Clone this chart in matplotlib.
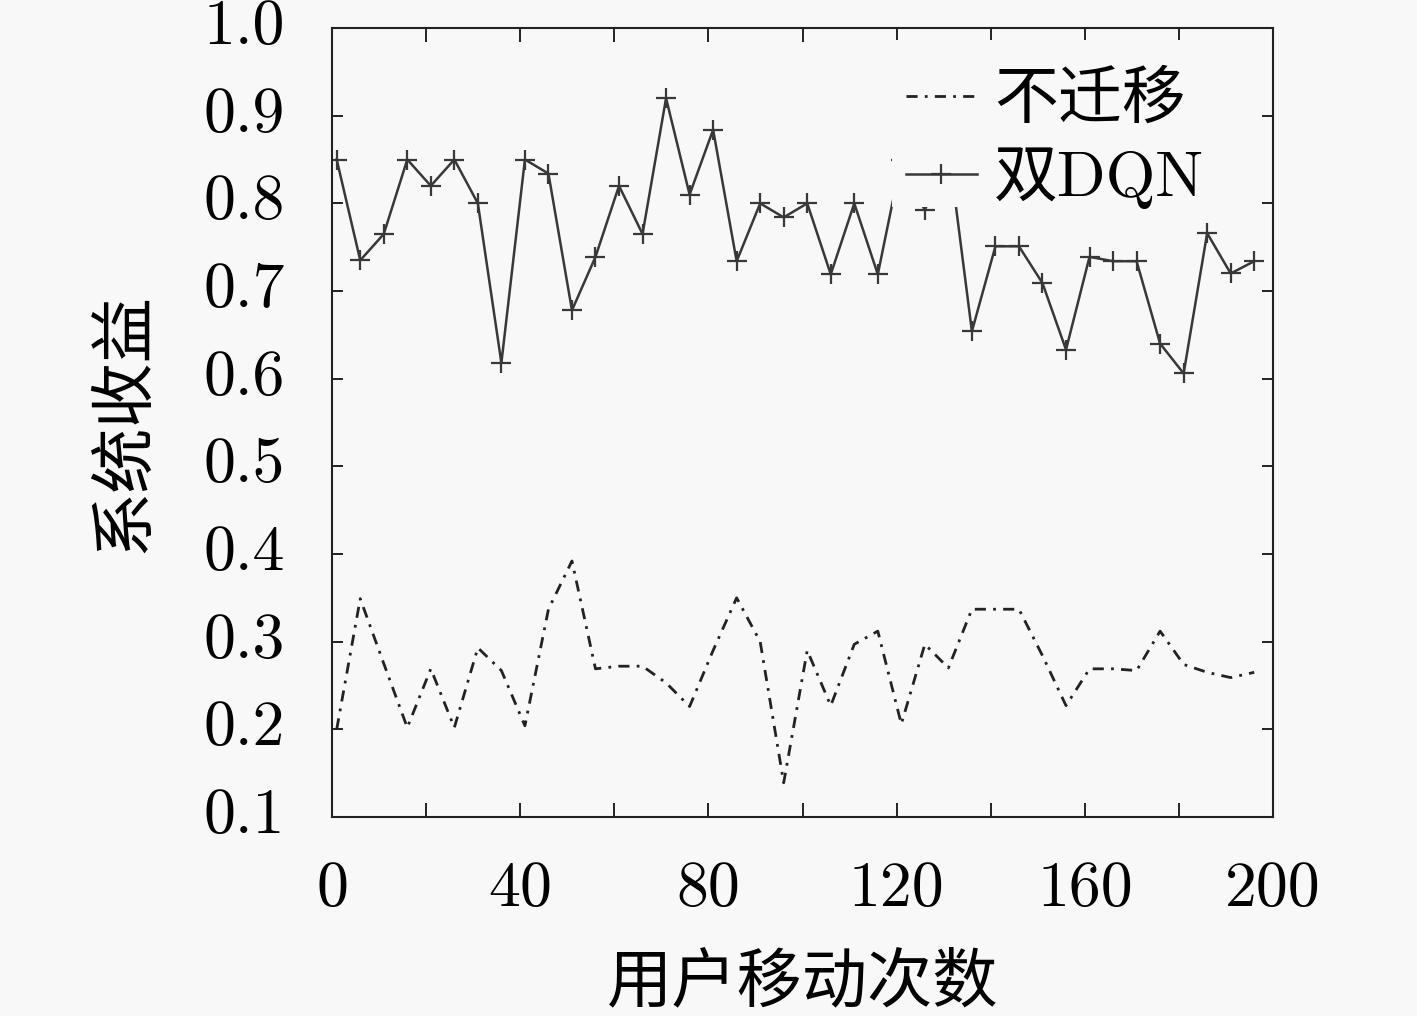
import matplotlib
matplotlib.use('Agg')
import matplotlib.pyplot as plt
from matplotlib.patches import Rectangle

# data
moves = [1, 6, 11, 16, 21, 26, 31, 36, 41, 46,
         51, 56, 61, 66, 71, 76, 81, 86, 91, 96,
         101, 106, 111, 116, 121, 126, 131, 136, 141, 146,
         151, 156, 161, 166, 171, 176, 181, 186, 191, 196]

no_migrate = [0.200, 0.349, 0.275, 0.202, 0.269, 0.202, 0.293, 0.267, 0.204, 0.337,
              0.392, 0.269, 0.272, 0.272, 0.253, 0.226, 0.290, 0.350, 0.300, 0.139,
              0.290, 0.227, 0.297, 0.312, 0.206, 0.297, 0.270, 0.337, 0.337, 0.337,
              0.284, 0.227, 0.269, 0.269, 0.267, 0.312, 0.274, 0.265, 0.259, 0.265]

double_dqn = [0.850, 0.735, 0.765, 0.850, 0.820, 0.850, 0.800, 0.618, 0.850, 0.834,
              0.678, 0.739, 0.820, 0.765, 0.920, 0.810, 0.884, 0.734, 0.800, 0.784,
              0.800, 0.719, 0.800, 0.719, 0.850, 0.792, 0.864, 0.654, 0.751, 0.751,
              0.709, 0.633, 0.739, 0.734, 0.734, 0.640, 0.606, 0.766, 0.720, 0.734]

x_ticks = [0, 20, 40, 60, 80, 100, 120, 140, 160, 180, 200]
x_tick_labels = ['0', '', '40', '', '80', '', '120', '', '160', '', '200']
y_ticks = [0.1, 0.2, 0.3, 0.4, 0.5, 0.6, 0.7, 0.8, 0.9, 1.0]
y_tick_labels = ['0.1', '0.2', '0.3', '0.4', '0.5', '0.6', '0.7', '0.8', '0.9', '1.0']

bg = '#f8f8f8'
ink = '#222222'

plt.rcParams['font.family'] = ['cmr10', 'Noto Sans CJK SC', 'DejaVu Sans']
plt.rcParams['axes.formatter.use_mathtext'] = True

fig = plt.figure(figsize=(14.17, 10.16), dpi=100, facecolor=bg)
ax = fig.add_axes([0.2343, 0.1959, 0.6641, 0.7765], facecolor=bg)

ax.plot(moves, no_migrate, color=ink, lw=2.0,
        linestyle=(0, (4, 2.6, 1, 2.6)), label='不迁移')
ax.plot(moves, double_dqn, color='#383838', lw=1.8, marker='+',
        markersize=15, markeredgewidth=1.6, label='双DQN')

ax.set_xlim(0, 200)
ax.set_ylim(0.1, 1.0)
ax.set_xticks(x_ticks, x_tick_labels)
ax.set_yticks(y_ticks, y_tick_labels)
ax.tick_params(axis='both', direction='in', top=True, right=True,
               labelsize=46, width=1.4, color=ink)
ax.tick_params(axis='x', length=10, pad=32)
ax.tick_params(axis='y', length=8, pad=34)
for lbl in ax.get_yticklabels():
    lbl.set_va('center')
for s in ax.spines.values():
    s.set_linewidth(1.5)
    s.set_color(ink)

ax.set_xlabel('用户移动次数', fontsize=47)
ax.set_ylabel('系统收益', fontsize=47)
ax.xaxis.set_label_coords(0.5, -0.211)
ax.xaxis.label.set_va('center')
ax.yaxis.set_label_coords(-0.22, 0.5)
ax.yaxis.label.set_va('center')

# opaque key area: it hides the DQN line behind the legend, like the reference
ax.add_patch(Rectangle((0.595, 0.7731), 0.385, 0.212, transform=ax.transAxes,
                       facecolor=bg, edgecolor='none', zorder=4))
leg = ax.legend(loc='lower left', bbox_to_anchor=(0.6103, 0.7706), fontsize=46,
                frameon=False, borderaxespad=0, borderpad=0.0,
                handlelength=1.1, handletextpad=0.27, labelspacing=0.25)

fig.savefig('out.png', dpi=100, facecolor=bg)
